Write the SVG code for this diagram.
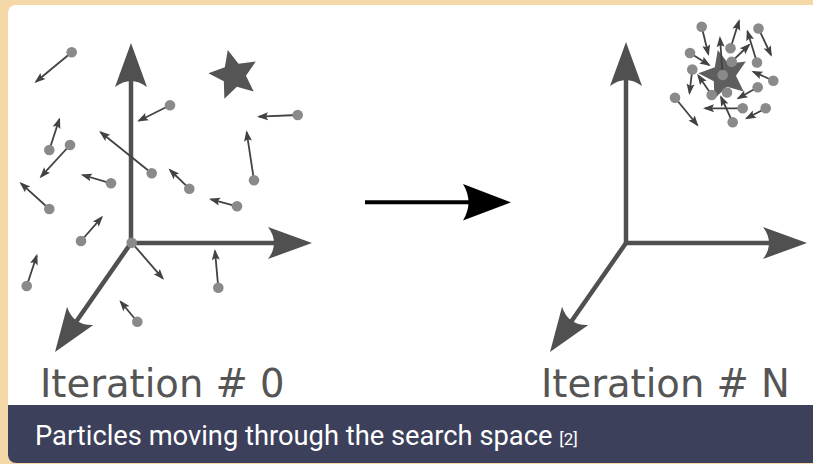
<svg xmlns="http://www.w3.org/2000/svg" xmlns:xlink="http://www.w3.org/1999/xlink" width="813" height="464" viewBox="0 0 813 464">
  <style>
    .axis { stroke: #505050; stroke-width: 4.5; fill: none; marker-end: url(#axisHead); }
    .vel { stroke: #424242; stroke-width: 1.8; fill: none; marker-end: url(#velHead); }
    .dot { fill: #8a8a8a; }
    .label { font-family: "DejaVu Sans", sans-serif; font-size: 38.5px; fill: #555555; }
    .caption { font-family: Roboto, "Liberation Sans", sans-serif; fill: #ffffff; }
  </style>
  <defs>
    <marker id="axisHead" markerUnits="userSpaceOnUse" markerWidth="60" markerHeight="40" refX="10" refY="20" orient="auto" viewBox="0 0 60 40">
      <path d="M46,20 L2,4 Q14,20 2,36 Z" fill="#505050"/>
    </marker>
    <marker id="velHead" markerUnits="userSpaceOnUse" markerWidth="16" markerHeight="12" refX="12" refY="6" orient="auto" viewBox="0 0 16 12">
      <path d="M14,6 L3,2 L5,6 L3,10 Z" fill="#424242"/>
    </marker>
    <path id="star" d="M227.78,50.06 L238.50,63.87 L255.79,61.38 L245.97,75.84 L253.69,91.52 L236.90,86.64 L224.37,98.83 L223.82,81.36 L208.36,73.21 L224.81,67.29 Z"/>
    <clipPath id="panelClip">
      <rect x="8" y="5" width="830" height="458" rx="8"/>
    </clipPath>
  </defs>

  <!-- page background and card -->
  <rect width="813" height="464" fill="#f5d8a7"/>
  <g id="card" clip-path="url(#panelClip)">
    <rect x="8" y="5" width="830" height="460" fill="#ffffff"/>
    <rect id="caption-bar" x="8" y="405" width="830" height="60" fill="#3d405b"/>
  </g>

  <!-- iteration 0: scattered swarm -->
  <g id="space-iter0">
    <use xlink:href="#star" fill="#555555"/>
    <line class="axis" x1="131" y1="243" x2="131" y2="79"/>
    <line class="axis" x1="131" y1="243" x2="276" y2="243"/>
    <line class="axis" x1="131" y1="243" x2="75.6" y2="322.5"/>
    <g id="swarm-iter0">
      <line class="vel" x1="71.7" y1="52.3" x2="36" y2="81.7"/>
      <line class="vel" x1="170" y1="105.3" x2="139" y2="120.7"/>
      <line class="vel" x1="297.7" y1="115" x2="259" y2="116.7"/>
      <line class="vel" x1="49.3" y1="150" x2="59.3" y2="119.3"/>
      <line class="vel" x1="70" y1="145" x2="41" y2="176.7"/>
      <line class="vel" x1="151.7" y1="173.3" x2="100.7" y2="132.3"/>
      <line class="vel" x1="254" y1="180.3" x2="246.7" y2="132.3"/>
      <line class="vel" x1="111" y1="183.3" x2="82.7" y2="175"/>
      <line class="vel" x1="49.3" y1="209" x2="21" y2="183.3"/>
      <line class="vel" x1="189.3" y1="188.7" x2="170" y2="170"/>
      <line class="vel" x1="237" y1="206.3" x2="211" y2="199.3"/>
      <line class="vel" x1="81" y1="241" x2="101.7" y2="217.3"/>
      <line class="vel" x1="131.7" y1="242.7" x2="162.7" y2="278.3"/>
      <line class="vel" x1="26.7" y1="286" x2="36.7" y2="255.7"/>
      <line class="vel" x1="218.3" y1="287.7" x2="215" y2="251"/>
      <line class="vel" x1="137.3" y1="321.7" x2="120.7" y2="301.7"/>
      <circle class="dot" cx="71.7" cy="52.3" r="5.3"/>
      <circle class="dot" cx="170" cy="105.3" r="5.3"/>
      <circle class="dot" cx="297.7" cy="115" r="5.3"/>
      <circle class="dot" cx="49.3" cy="150" r="5.3"/>
      <circle class="dot" cx="70" cy="145" r="5.3"/>
      <circle class="dot" cx="151.7" cy="173.3" r="5.3"/>
      <circle class="dot" cx="254" cy="180.3" r="5.3"/>
      <circle class="dot" cx="111" cy="183.3" r="5.3"/>
      <circle class="dot" cx="49.3" cy="209" r="5.3"/>
      <circle class="dot" cx="189.3" cy="188.7" r="5.3"/>
      <circle class="dot" cx="237" cy="206.3" r="5.3"/>
      <circle class="dot" cx="81" cy="241" r="5.3"/>
      <circle class="dot" cx="131.7" cy="242.7" r="5.3"/>
      <circle class="dot" cx="26.7" cy="286" r="5.3"/>
      <circle class="dot" cx="218.3" cy="287.7" r="5.3"/>
      <circle class="dot" cx="137.3" cy="321.7" r="5.3"/>
    </g>
    <text class="label" x="40" y="397">Iteration # 0</text>
  </g>

  <!-- iteration N: swarm converged on the optimum -->
  <g id="space-iterN">
    <line class="axis" x1="626" y1="243" x2="626" y2="78"/>
    <line class="axis" x1="626" y1="243" x2="771" y2="243"/>
    <line class="axis" x1="626" y1="243" x2="570.6" y2="322.5"/>
    <use xlink:href="#star" transform="translate(490,0)" fill="#5e5e5e"/>
    <g id="swarm-iterN">
      <line class="vel" x1="701.7" y1="26.7" x2="708.3" y2="54"/>
      <line class="vel" x1="730.5" y1="48.3" x2="739" y2="21"/>
      <line class="vel" x1="758.5" y1="28.5" x2="771" y2="55"/>
      <line class="vel" x1="690" y1="53" x2="709" y2="65"/>
      <line class="vel" x1="757" y1="62.5" x2="747.5" y2="31.5"/>
      <line class="vel" x1="731.7" y1="61.7" x2="749" y2="45"/>
      <line class="vel" x1="692.3" y1="69.5" x2="689.5" y2="93"/>
      <line class="vel" x1="722.7" y1="75" x2="720" y2="38"/>
      <line class="vel" x1="711.7" y1="95" x2="698.3" y2="75.5"/>
      <line class="vel" x1="732.7" y1="122.3" x2="721" y2="97"/>
      <line class="vel" x1="742.7" y1="108.3" x2="705" y2="108.3"/>
      <line class="vel" x1="765.7" y1="108.3" x2="746.7" y2="118.3"/>
      <line class="vel" x1="773.3" y1="80.7" x2="753.3" y2="71.7"/>
      <line class="vel" x1="757.7" y1="87.3" x2="738.3" y2="98.3"/>
      <line class="vel" x1="675" y1="97.7" x2="697.3" y2="125"/>
      <circle class="dot" cx="701.7" cy="26.7" r="5.3"/>
      <circle class="dot" cx="730.5" cy="48.3" r="5.3"/>
      <circle class="dot" cx="758.5" cy="28.5" r="5.3"/>
      <circle class="dot" cx="690" cy="53" r="5.3"/>
      <circle class="dot" cx="757" cy="62.5" r="5.3"/>
      <circle class="dot" cx="731.7" cy="61.7" r="5.3"/>
      <circle class="dot" cx="692.3" cy="69.5" r="5.3"/>
      <circle class="dot" cx="722.7" cy="75" r="5.3"/>
      <circle class="dot" cx="711.7" cy="95" r="5.3"/>
      <circle class="dot" cx="727" cy="92.5" r="5.3"/>
      <circle class="dot" cx="732.7" cy="122.3" r="5.3"/>
      <circle class="dot" cx="742.7" cy="108.3" r="5.3"/>
      <circle class="dot" cx="765.7" cy="108.3" r="5.3"/>
      <circle class="dot" cx="773.3" cy="80.7" r="5.3"/>
      <circle class="dot" cx="757.7" cy="87.3" r="5.3"/>
      <circle class="dot" cx="675" cy="97.7" r="5.3"/>
    </g>
    <text class="label" x="541" y="397">Iteration # N</text>
  </g>

  <!-- progression arrow between the two states -->
  <g id="connectors">
    <line x1="365" y1="202.3" x2="470" y2="202.3" stroke="#000000" stroke-width="4"/>
    <path d="M511,202.3 L463,184 Q474,202.3 463,220.5 Z" fill="#000000"/>
  </g>

  <g id="caption">
    <text class="caption" x="35" y="445" font-size="27.3">Particles moving through the search space <tspan font-size="17">[2]</tspan></text>
  </g>
</svg>
